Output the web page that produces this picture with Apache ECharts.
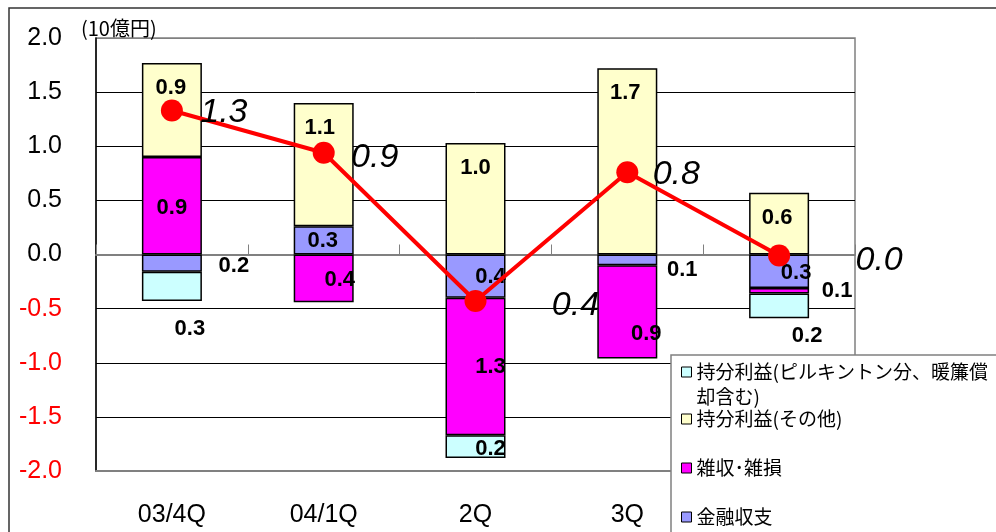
<!DOCTYPE html>
<html>
<head>
<meta charset="utf-8">
<script src="https://cdn.jsdelivr.net/npm/echarts@6/dist/echarts.min.js"></script>
<style>
html,body{margin:0;padding:0;background:#fff;}
#chart{width:996px;height:532px;}
</style>
</head>
<body>
<div id="chart"></div>
<script>
// ---- data ----
const categories = ['03/4Q', '04/1Q', '2Q', '3Q', '4Q'];
const seriesNames = ['金融収支', '雑収･雑損', '持分利益(その他)', '持分利益(ピルキントン分、暖簾償却含む)'];
const finance = [-0.16, 0.26, -0.40, -0.10, -0.31];      // 金融収支
const misc = [0.90, -0.44, -1.27, -0.86, -0.05];          // 雑収・雑損
const equityOther = [0.87, 1.14, 1.03, 1.72, 0.57];       // 持分利益(その他)
const equityPil = [-0.27, null, -0.21, null, -0.23];      // 持分利益(ピルキントン分、暖簾償却含む)
const total = [1.33, 0.94, -0.43, 0.76, -0.01];           // 合計 (折れ線)
const yTicks = { min: -2, max: 2, interval: 0.5 };
const unitLabel = '(10億円)';

// ---- label layout (style only) ----
const finLabelOffset = [[62, 3], [-1, 1], [15, 1], [55, 10], [17, 2]];
const miscLabelOffset = [[0, 2], [16, 2], [15, 0], [19, 22], [58, 0]];
const otherLabelOffset = [[-1, 0], [-4, 0], [0, 0], [-2, 0], [-2, 0]];
const pilLabelOffset = [[18, 43], [0, 0], [15, 2], [0, 0], [28, 30]];
const lineLabelOffset = [[52, 2], [51, 5], [100, 4], [49, 2], [100, 5]];

const NUM_FONT = '"Liberation Sans", Arial, sans-serif';
const JP_FONT = '"Noto Sans CJK JP", "Noto Sans", sans-serif';
const absFmt = p => (p.value == null ? '' : Math.abs(p.value).toFixed(1));

function withOffsets(values, offsets, extra) {
  return values.map((v, i) => ({
    value: v,
    label: Object.assign({ offset: offsets[i] }, extra || {})
  }));
}

const barLabelBase = {
  show: true,
  color: '#000',
  fontFamily: NUM_FONT,
  fontSize: 22,
  fontWeight: 'bold',
  formatter: absFmt
};
const barItem = c => ({ color: c, borderColor: '#000', borderWidth: 1.5 });

const chart = echarts.init(document.getElementById('chart'), null, { renderer: 'canvas' });

const legendItemBase = {
  orient: 'vertical',
  padding: 0,
  left: 681,
  itemWidth: 10,
  itemHeight: 10,
  icon: 'rect',
  z: 20,
  itemStyle: { borderColor: '#000', borderWidth: 1 },
  textStyle: { fontFamily: JP_FONT, fontSize: 19, color: '#000', lineHeight: 25 }
};

const option = {
  animation: false,
  backgroundColor: '#fff',
  grid: {
    left: 96, right: 141, top: 38, bottom: 61,
    show: true, borderColor: '#808080', borderWidth: 1.5, backgroundColor: 'transparent'
  },
  graphic: [
    { type: 'rect', z: 0, shape: { x: 9, y: 8, width: 1200, height: 700 },
      style: { fill: 'none', stroke: '#333', lineWidth: 1.5 } },
    { type: 'text', z: 5, left: 81, top: 18,
      style: { text: unitLabel, fontFamily: JP_FONT, fontSize: 20, fill: '#000' } },
    { type: 'rect', z: 15, shape: { x: 671, y: 355, width: 500, height: 300 },
      style: { fill: '#fff', stroke: '#808080', lineWidth: 1.5 } }
  ],
  legend: [
    Object.assign({}, legendItemBase, {
      top: 334.5, data: [seriesNames[3]],
      formatter: () => '\u00a0\n持分利益(ピルキントン分、暖簾償\n却含む)'
    }),
    Object.assign({}, legendItemBase, { top: 406.5, data: [seriesNames[2]] }),
    Object.assign({}, legendItemBase, { top: 455.5, data: [seriesNames[1]] }),
    Object.assign({}, legendItemBase, { top: 504.5, data: [seriesNames[0]] })
  ],
  xAxis: [
    {
      type: 'category',
      data: categories,
      position: 'bottom',
      axisLine: { onZero: false, lineStyle: { color: '#808080', width: 2 } },
      axisTick: { show: false },
      splitLine: { show: false },
      axisLabel: {
        fontFamily: NUM_FONT, fontSize: 25, color: '#000', margin: 32,
        formatter: (v, i) => (i === categories.length - 1 ? '' : v)
      }
    },
    {
      type: 'category',
      data: categories,
      position: 'top',
      axisLine: { onZero: true, lineStyle: { color: '#808080', width: 2 } },
      axisTick: { show: true, length: 10, lineStyle: { color: '#808080', width: 1 } },
      axisLabel: { show: false },
      splitLine: { show: false }
    }
  ],
  yAxis: {
    type: 'value',
    min: yTicks.min, max: yTicks.max, interval: yTicks.interval,
    axisLine: { show: true, lineStyle: { color: '#000', width: 1.5 } },
    axisTick: { show: false },
    splitLine: {
      show: true,
      lineStyle: { width: 1, color: ['#808080', '#000', '#000', '#000', '#808080', '#000', '#000', '#000'] }
    },
    axisLabel: {
      fontFamily: NUM_FONT, fontSize: 25, margin: 34,
      formatter: v => v.toFixed(1),
      color: v => (Number(v) < 0 ? '#FF0000' : '#000')
    }
  },
  series: [
    {
      name: seriesNames[0], type: 'bar', stack: 'total', barWidth: 60,
      itemStyle: barItem('#9999FF'),
      label: Object.assign({}, barLabelBase, { position: 'inside' }),
      data: withOffsets(finance, finLabelOffset)
    },
    {
      name: seriesNames[1], type: 'bar', stack: 'total', barWidth: 60,
      itemStyle: barItem('#FF00FF'),
      label: Object.assign({}, barLabelBase, { position: 'inside' }),
      data: withOffsets(misc, miscLabelOffset)
    },
    {
      name: seriesNames[2], type: 'bar', stack: 'total', barWidth: 60,
      itemStyle: barItem('#FFFFCC'),
      label: Object.assign({}, barLabelBase, { position: 'insideTop', distance: 14 }),
      data: withOffsets(equityOther, otherLabelOffset)
    },
    {
      name: seriesNames[3], type: 'bar', stack: 'total', barWidth: 60,
      itemStyle: barItem('#CCFFFF'),
      label: Object.assign({}, barLabelBase, { position: 'inside' }),
      data: withOffsets(equityPil, pilLabelOffset)
    },
    {
      name: '合計', type: 'line', z: 10,
      symbol: 'circle', symbolSize: 22,
      itemStyle: { color: '#FF0000' },
      lineStyle: { color: '#FF0000', width: 4 },
      label: {
        show: true, position: 'inside', color: '#000',
        fontFamily: NUM_FONT, fontSize: 34, fontStyle: 'italic',
        formatter: absFmt
      },
      data: withOffsets(total, lineLabelOffset)
    }
  ]
};
chart.setOption(option);
</script>
</body>
</html>
